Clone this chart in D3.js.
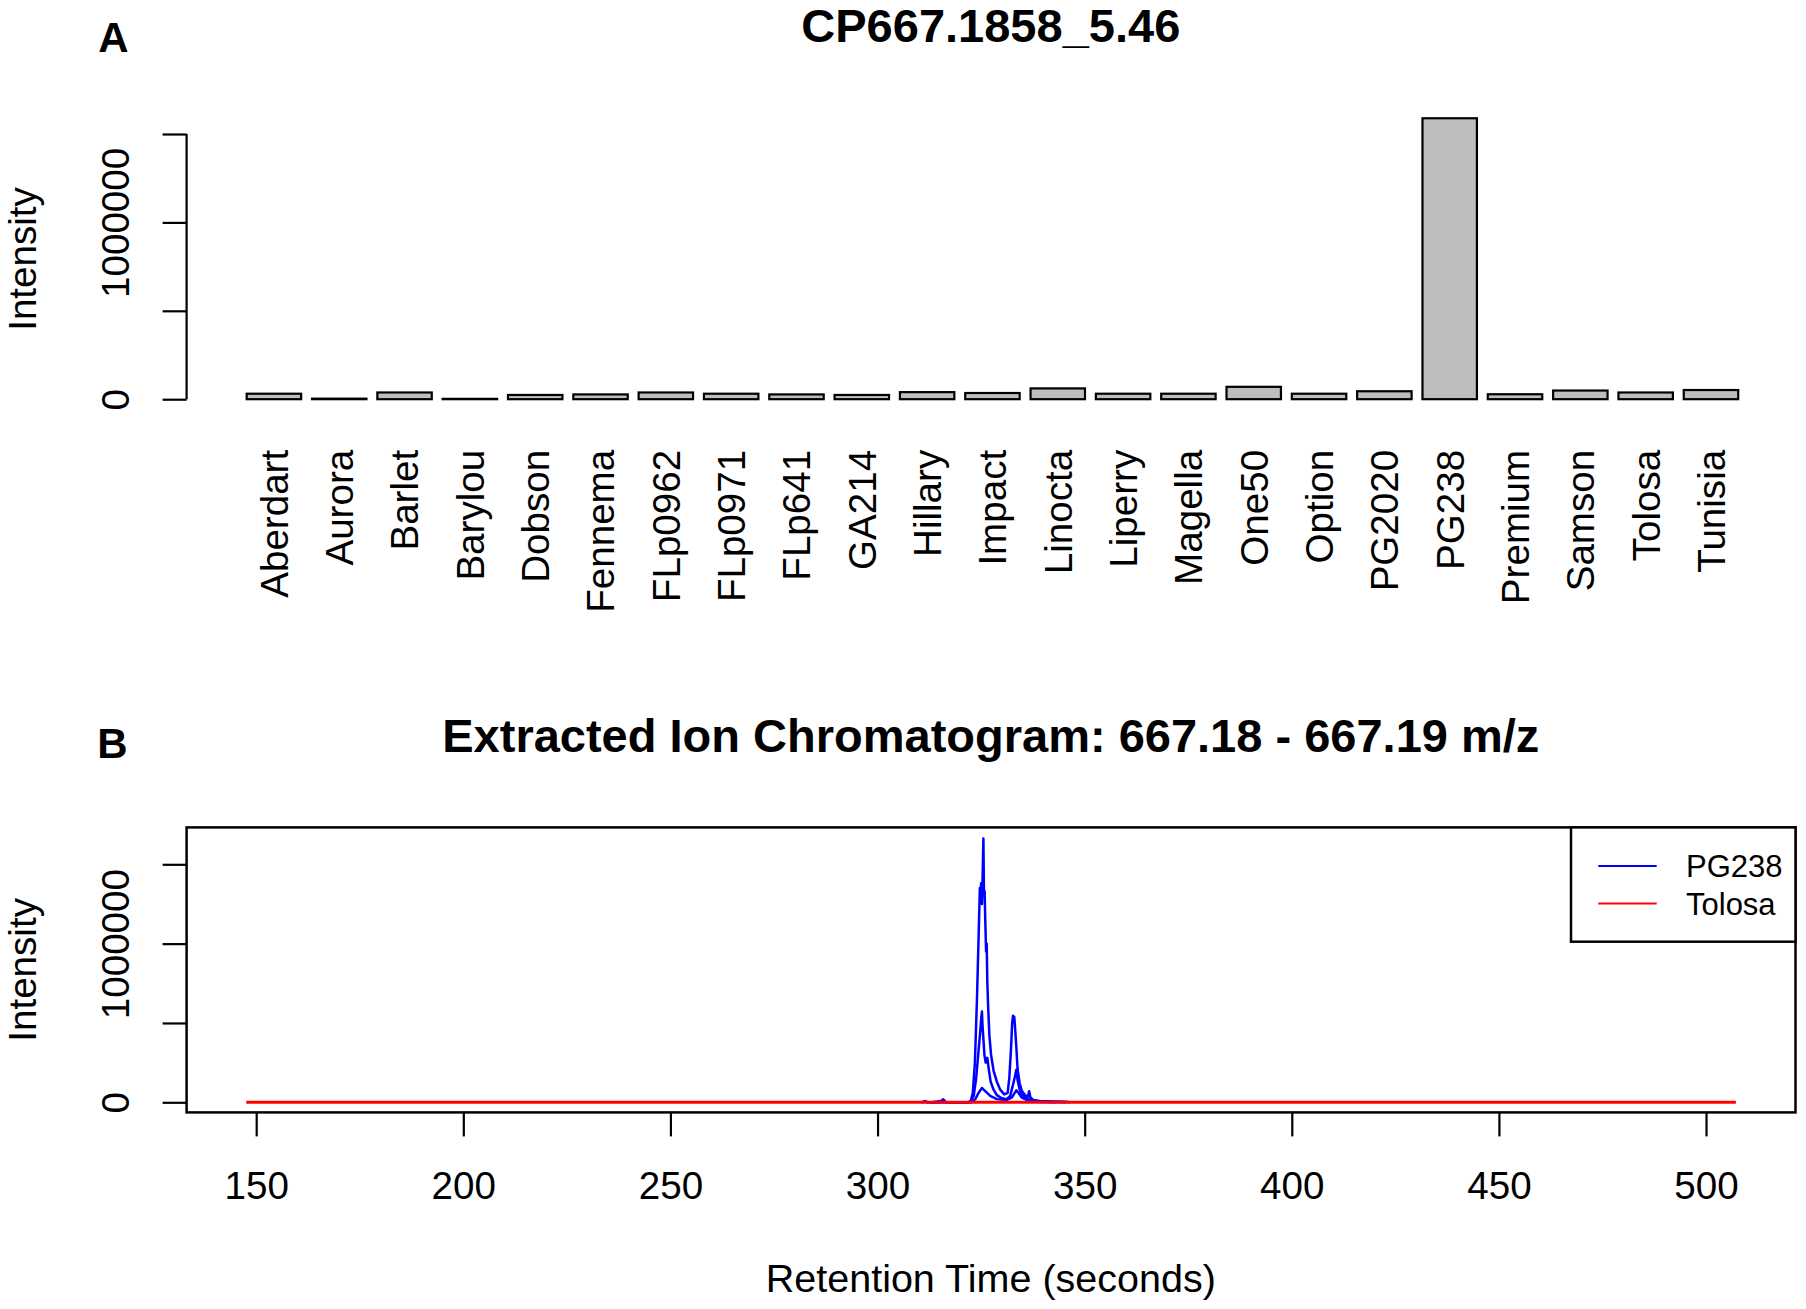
<!DOCTYPE html>
<html>
<head>
<meta charset="utf-8">
<script src="https://cdn.jsdelivr.net/npm/d3@7/dist/d3.min.js"></script>
<style>
  html, body { margin: 0; padding: 0; background: #fff; }
  svg { display: block; }
  text { font-family: "Liberation Sans", Arial, Helvetica, sans-serif; fill: #000; }
</style>
</head>
<body>
<svg id="chart" width="1806" height="1309"></svg>
<script>
// ---------------- DATA ----------------
const panelATitle = "CP667.1858_5.46";
const panelBTitle = "Extracted Ion Chromatogram: 667.18 - 667.19 m/z";

const cultivars = ["Aberdart","Aurora","Barlet","Barylou","Dobson","Fennema","FLp0962","FLp0971",
  "FLp641","GA214","Hillary","Impact","Linocta","Liperry","Magella","One50","Option","PG2020",
  "PG238","Premium","Samson","Tolosa","Tunisia"];
const intensities = [31000, 3000, 38000, 2000, 24000, 27000, 38000, 31000,
  27000, 24000, 40000, 35000, 61000, 31000, 31000, 70000, 31000, 45000,
  1589000, 28000, 49000, 38000, 52000];

const yTicksA = [0, 500000, 1000000, 1500000];
const yTickLabelsA = ["0", "", "1000000", ""];
const yTicksB = [0, 500000, 1000000, 1500000];
const yTickLabelsB = ["0", "", "1000000", ""];
const xTicksB = [150, 200, 250, 300, 350, 400, 450, 500];

// EIC traces: [retention time (s), intensity]
const pg238Rep1 = [[310.8,0],[311.5,8000],[312.2,0],[315.2,0],[315.8,19000],[316.5,2000],[321.8,0],
  [322.5,8000],[323.0,60000],[323.5,250000],[324.0,650000],[324.4,1050000],[324.7,1350000],
  [324.85,1290000],[325.0,1380000],[325.2,1250000],[325.35,1400000],[325.55,1662000],[325.7,1300000],
  [325.85,1330000],[326.0,1150000],[326.2,950000],[326.35,1000000],[326.5,760000],[326.7,600000],
  [327.0,420000],[327.4,300000],[328.0,200000],[328.8,130000],[329.6,80000],[330.6,50000],
  [331.4,60000],[331.8,150000],[332.2,330000],[332.5,500000],[332.7,545000],[332.85,520000],
  [333.0,540000],[333.2,470000],[333.5,350000],[333.8,210000],[334.3,120000],[334.8,75000],
  [335.6,45000],[336.3,35000],[336.6,70000],[336.9,30000],[337.6,15000],[339.2,8000],
  [342.5,5000],[345.7,3000],[346.5,0]];
const pg238Rep2 = [[310.5,0],[311.4,5000],[312.0,0],[321.9,0],[322.6,10000],[323.2,40000],
  [323.8,150000],[324.4,330000],[324.8,450000],[325.0,520000],[325.2,572000],[325.35,480000],
  [325.5,420000],[325.8,300000],[326.1,250000],[326.3,270000],[326.5,280000],[326.9,200000],
  [327.3,130000],[328.0,80000],[328.8,45000],[330.0,25000],[331.2,20000],[332.0,40000],
  [332.6,100000],[333.1,155000],[333.5,205000],[333.8,140000],[334.3,80000],[334.8,50000],
  [335.6,30000],[336.8,15000],[338.5,6000],[341.0,3000],[344.0,2000],[345.5,0]];
const pg238Rep3 = [[313.0,0],[315.8,10000],[316.4,0],[322.7,0],[323.6,20000],[324.4,60000],
  [325.2,90000],[325.6,80000],[326.0,70000],[327.2,40000],[328.8,20000],[331.2,15000],
  [332.4,30000],[333.5,75000],[334.0,60000],[334.8,30000],[336.0,15000],[337.6,5000],
  [340.0,2000],[343.0,0]];
const tolosaRep1 = [[147.6,0],[200,0],[250,0],[300,0],[350,0],[400,0],[450,0],[507.2,0]];

const legendLabels = ["PG238", "Tolosa"];
const legendColors = ["#0000ff", "#ff0000"];

// ---------------- DRAW ----------------
const svg = d3.select("#chart");
svg.append("rect").attr("width", 1806).attr("height", 1309).attr("fill", "#fff");

const FS = 38.6;      // axis text size
const tickLen = 24;

// ===== Panel A =====
const axisXA = 186.6;
const yA = d3.scaleLinear().domain([0, 1500000]).range([399.2, 134.0]);
const xA = d3.scaleBand().domain(cultivars).range([246.7, 1738.2]).paddingInner(0.1667).paddingOuter(0);

svg.append("text").attr("x", 113.4).attr("y", 51.8).attr("text-anchor", "middle")
  .attr("font-weight", "bold").attr("font-size", 42).text("A");
svg.append("text").attr("x", 990.8).attr("y", 42).attr("text-anchor", "middle")
  .attr("font-weight", "bold").attr("font-size", 47).text(panelATitle);

// bars
svg.append("g").selectAll("rect").data(cultivars).join("rect")
  .attr("x", d => xA(d))
  .attr("width", xA.bandwidth())
  .attr("y", (d, i) => yA(intensities[i]))
  .attr("height", (d, i) => yA(0) - yA(intensities[i]))
  .attr("fill", "#bebebe").attr("stroke", "#000").attr("stroke-width", 2.2);

// y axis
function leftAxis(g, scale, ticks, labels) {
  const ax = d3.axisLeft(scale).tickValues(ticks).tickSize(tickLen).tickSizeOuter(0)
    .tickFormat((d, i) => labels[i]);
  g.call(ax);
  g.select(".domain").attr("stroke", "#000").attr("stroke-width", 2.2)
    .attr("d", `M0,${scale(ticks[0])}V${scale(ticks[ticks.length - 1])}`);
  g.selectAll(".tick line").attr("stroke", "#000").attr("stroke-width", 2.2);
  g.selectAll(".tick text")
    .attr("font-size", FS).attr("font-family", null)
    .attr("x", -57.6).attr("dy", null).attr("y", 0)
    .attr("text-anchor", "middle")
    .attr("transform", "rotate(-90,-57.6,0)");
}
svg.append("g").attr("transform", `translate(${axisXA},0)`)
  .call(g => leftAxis(g, yA, yTicksA, yTickLabelsA));

// x labels A
svg.append("g").selectAll("text").data(cultivars).join("text")
  .attr("x", d => xA(d) + xA.bandwidth() / 2)
  .attr("y", 449.8)
  .attr("dy", "0.36em")
  .attr("text-anchor", "end")
  .attr("font-size", FS)
  .attr("transform", d => `rotate(-90,${xA(d) + xA.bandwidth() / 2},449.8)`)
  .text(d => d);

svg.append("text").attr("x", 36).attr("y", 259).attr("text-anchor", "middle")
  .attr("font-size", FS).attr("transform", "rotate(-90,36,259)").text("Intensity");

// ===== Panel B =====
const boxL = 186.6, boxR = 1795.5, boxT = 827.4, boxB = 1112.4;
const xB = d3.scaleLinear().domain([133.2, 521.6]).range([boxL, boxR]);
const yB = d3.scaleLinear().domain([0, 1500000]).range([1102.3, 864.3]);

svg.append("text").attr("x", 112.5).attr("y", 758).attr("text-anchor", "middle")
  .attr("font-weight", "bold").attr("font-size", 42).text("B");
svg.append("text").attr("x", 990.8).attr("y", 752).attr("text-anchor", "middle")
  .attr("font-weight", "bold").attr("font-size", 47).text(panelBTitle);

const line = d3.line().x(d => xB(d[0])).y(d => yB(d[1]));
const plotG = svg.append("g");
[pg238Rep1, pg238Rep2, pg238Rep3].forEach(tr => {
  plotG.append("path").datum(tr).attr("d", line).attr("fill", "none")
    .attr("stroke", legendColors[0]).attr("stroke-width", 2.5).attr("stroke-linejoin", "round");
});
[tolosaRep1].forEach(tr => {
  plotG.append("path").datum(tr).attr("d", line).attr("fill", "none")
    .attr("stroke", legendColors[1]).attr("stroke-width", 3);
});

// box
svg.append("rect").attr("x", boxL).attr("y", boxT).attr("width", boxR - boxL).attr("height", boxB - boxT)
  .attr("fill", "none").attr("stroke", "#000").attr("stroke-width", 2.5);

// y axis B
svg.append("g").attr("transform", `translate(${boxL},0)`)
  .call(g => leftAxis(g, yB, yTicksB, yTickLabelsB))
  .call(g => g.select(".domain").remove());

// x axis B
const xAxB = svg.append("g").attr("transform", `translate(0,${boxB})`)
  .call(d3.axisBottom(xB).tickValues(xTicksB).tickSize(tickLen).tickSizeOuter(0).tickFormat(d3.format("d")));
xAxB.select(".domain").remove();
xAxB.selectAll(".tick line").attr("stroke", "#000").attr("stroke-width", 2.2);
xAxB.selectAll(".tick text").attr("font-size", FS).attr("font-family", null)
  .attr("y", 1199 - boxB).attr("dy", null);

svg.append("text").attr("x", 990.8).attr("y", 1292).attr("text-anchor", "middle")
  .attr("font-size", 39.5).text("Retention Time (seconds)");
svg.append("text").attr("x", 36).attr("y", 969.9).attr("text-anchor", "middle")
  .attr("font-size", FS).attr("transform", "rotate(-90,36,969.9)").text("Intensity");

// legend
const leg = svg.append("g");
leg.append("rect").attr("x", 1571).attr("y", boxT).attr("width", boxR - 1571).attr("height", 941.7 - boxT)
  .attr("fill", "#fff").attr("stroke", "#000").attr("stroke-width", 2.5);
const legY = [866, 903.5];
leg.selectAll("line.l").data(legendLabels).join("line")
  .attr("x1", 1598.3).attr("x2", 1656.7)
  .attr("y1", (d, i) => legY[i]).attr("y2", (d, i) => legY[i])
  .attr("stroke", (d, i) => legendColors[i]).attr("stroke-width", 2.2);
leg.selectAll("text").data(legendLabels).join("text")
  .attr("x", 1686).attr("y", (d, i) => legY[i] + 11.3)
  .attr("font-size", 31).text(d => d);
</script>
</body>
</html>
